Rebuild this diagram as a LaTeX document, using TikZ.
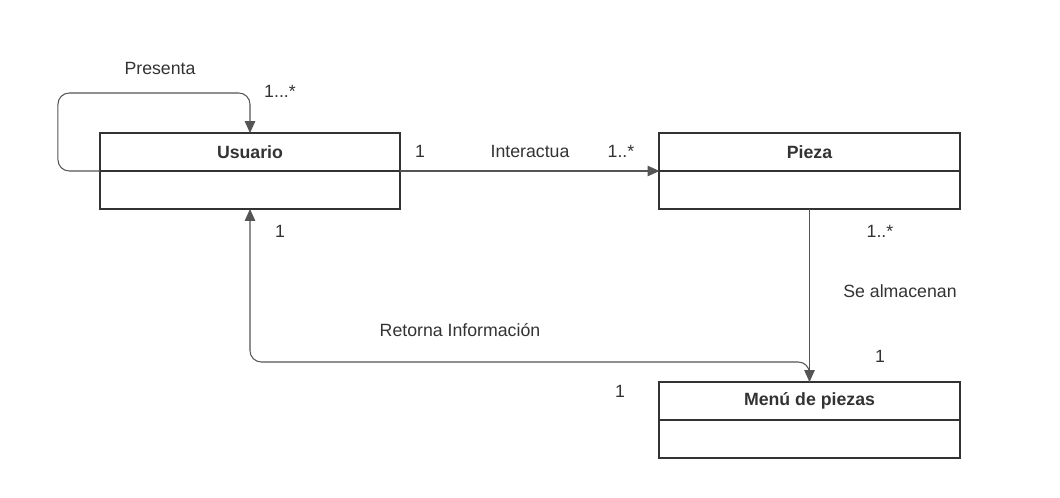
\documentclass[tikz,border=0pt]{standalone}
\usepackage{fontspec}
\setmainfont{Liberation Sans}
\usetikzlibrary{arrows.meta}
\definecolor{umlline}{HTML}{333333}
\definecolor{umlconn}{HTML}{555555}
\tikzset{
  classhead/.style={rectangle, draw=umlline, line width=1.4pt, outer sep=0, minimum width=7.5cm, minimum height=0.95cm,
    font=\fontsize{12.6}{15}\selectfont\bfseries, text=umlline},
  classbody/.style={rectangle, draw=umlline, line width=1.4pt, outer sep=0, minimum width=7.5cm, minimum height=0.95cm},
  conn/.style={draw=umlconn, line width=0.75pt, -{Triangle[length=8.5pt,width=7.5pt]}},
  lbl/.style={font=\fontsize{12.6}{15}\selectfont, text=umlline, inner sep=0}
}
\begin{document}
\begin{tikzpicture}[x=0.025cm, y=-0.025cm]
  \useasboundingbox (0,0) rectangle (1060,498);

  \node[classhead] (usuario) at (250, 152) {Usuario};
  \node[classbody, anchor=north] (usuarioBody) at (usuario.south) {};

  \node[classhead] (pieza) at (809.5, 152) {Pieza};
  \node[classbody, anchor=north] (piezaBody) at (pieza.south) {};

  \node[classhead] (menu) at (809.5, 401) {Menú de piezas};
  \node[classbody, anchor=north] (menuBody) at (menu.south) {};

  % self association
  \draw[conn, rounded corners=8] (usuario.south west) -- ++(-42,0) -- ++(0,-78) -| (usuario.north);
  \node[lbl] (presenta) at (160, 68) {Presenta};
  \node[lbl] (multPresenta) at (280, 91) {1...*};

  % usuario - pieza
  \draw[conn] (usuario.south east) -- (pieza.south west);
  \node[lbl] (multUsuario) at (420, 151) {1};
  \node[lbl] (interactua) at (530, 151) {Interactua};
  \node[lbl] (multPieza) at (621, 151) {1..*};

  % pieza - menu
  \draw[conn] (piezaBody.south) -- (menu.north);
  \node[lbl] (multPiezaMenu) at (880, 231) {1..*};
  \node[lbl] (almacenan) at (900, 291) {Se almacenan};
  \node[lbl] (multMenu) at (880, 356) {1};

  % menu - usuario
  \draw[conn, rounded corners=8] (menu.north) -- ++(0,-20) -| (usuarioBody.south);
  \node[lbl] (multRetorna) at (280, 231) {1};
  \node[lbl] (retorna) at (460, 330) {Retorna Información};
  \node[lbl] (multMenuRet) at (620, 391) {1};
\end{tikzpicture}
\end{document}
